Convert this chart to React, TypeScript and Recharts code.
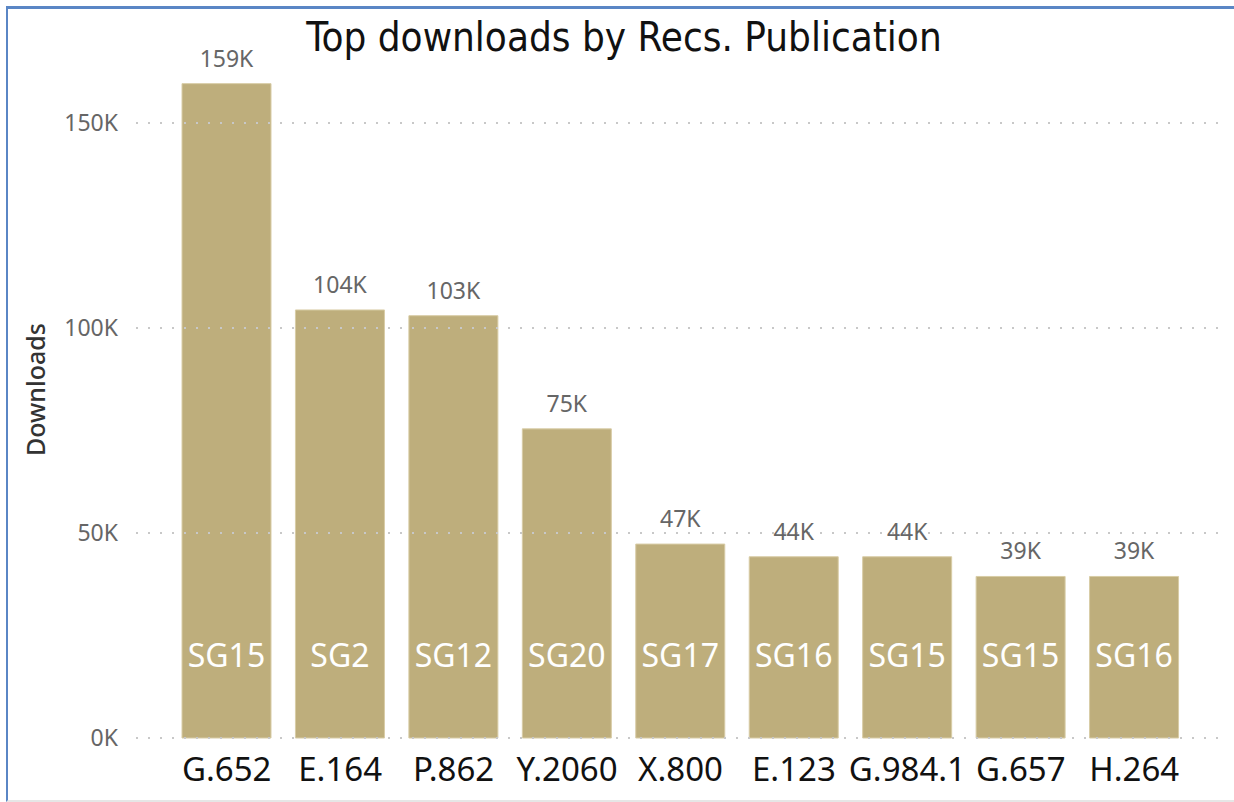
import { BarChart, Bar, XAxis, YAxis, ReferenceLine, LabelList } from "recharts"

const publications = ["G.652", "E.164", "P.862", "Y.2060", "X.800", "E.123", "G.984.1", "G.657", "H.264"]
const studyGroups = ["SG15", "SG2", "SG12", "SG20", "SG17", "SG16", "SG15", "SG15", "SG16"]
const downloads = [159600, 104400, 103000, 75400, 47300, 44200, 44200, 39400, 39400]
const yTicks = [0, 50000, 100000, 150000]

const data = publications.map((name, i) => ({
  name,
  group: studyGroups[i],
  downloads: downloads[i]
}))

const kFormat = (v: number) => `${Math.floor(v / 1000)}K`

// group name sits at a fixed distance above the bar base
const GroupLabel = (props: any) => {
  const { x, y, width, height, value } = props
  return (
    <text
      x={x + width / 2}
      y={y + height - 84}
      textAnchor="middle"
      dominantBaseline="central"
      fill="#ffffff"
      fontSize={32}
      fontFamily='"Noto Sans", sans-serif'
    >
      {value}
    </text>
  )
}

export default function App() {
  return (
    <div style={{ position: "absolute", left: 0, top: 0, width: 1234, height: 802, background: "#fff", overflow: "hidden" }}>
      <div style={{ position: "absolute", left: 6, top: 6, width: 1300, height: 796, boxSizing: "border-box", borderTop: "3px solid #5A86C5", borderLeft: "2px solid #5A86C5", borderBottom: "2px solid #e6e6e6" }} />
      <div
        style={{
          position: "absolute",
          top: 12,
          left: 0,
          width: 1248,
          textAlign: "center",
          fontSize: 40,
          lineHeight: "50px",
          fontFamily: '"DejaVu Sans Condensed", "Liberation Sans Narrow", "Noto Sans", sans-serif',
          color: "#111"
        }}
      >
        Top downloads by Recs. Publication
      </div>
      <BarChart
        width={1234}
        height={802}
        data={data}
        margin={{ top: 41, right: 8, bottom: 34, left: 0 }}
        style={{ position: "absolute", left: 0, top: 0 }}
      >
        {yTicks.map((t) => (
          <ReferenceLine key={t} y={t} stroke="#c8c8c8" strokeWidth={2} strokeDasharray="2 10" />
        ))}
        <XAxis
          dataKey="name"
          axisLine={false}
          tickLine={false}
          interval={0}
          padding={{ left: 34, right: 35 }}
          tickMargin={14}
          tick={{ fill: "#111", fontSize: 33, fontFamily: '"Noto Sans", sans-serif' }}
        />
        <YAxis
          width={136}
          domain={[0, 170000]}
          ticks={yTicks}
          tickFormatter={kFormat}
          axisLine={false}
          tickLine={false}
          tickMargin={12}
          tick={{ fill: "#666", fontSize: 23, fontFamily: '"Noto Sans", sans-serif' }}
          label={{
            value: "Downloads",
            angle: -90,
            position: "insideLeft",
            offset: 36,
            style: { fill: "#333", fontSize: 25, fontWeight: 500, fontFamily: '"Noto Sans", sans-serif', textAnchor: "middle" }
          }}
        />
        <Bar dataKey="downloads" fill="#BEAE7C" stroke="#D8CCA6" strokeWidth={1} barSize={89} isAnimationActive={false}>
          <LabelList
            dataKey="downloads"
            position="top"
            offset={17}
            formatter={(v: any) => kFormat(Number(v))}
            style={{ fill: "#666", fontSize: 23, fontFamily: '"Noto Sans", sans-serif' }}
          />
          <LabelList dataKey="group" content={GroupLabel} />
        </Bar>
      </BarChart>
    </div>
  )
}
